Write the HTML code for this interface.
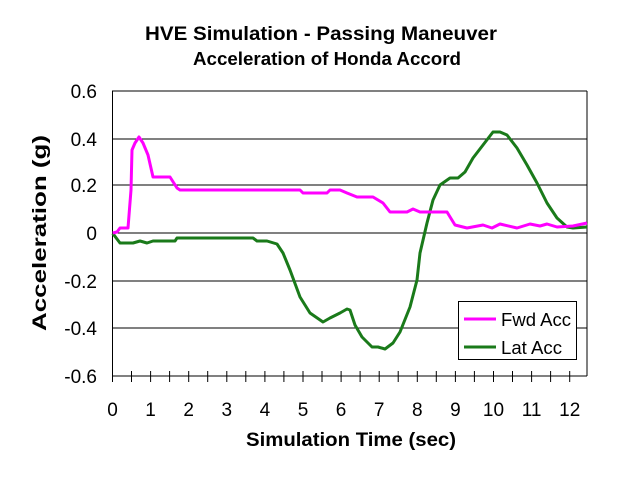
<!DOCTYPE html>
<html><head><style>body{margin:0;background:#fff}svg{display:block}</style></head><body>
<svg width="643" height="478" viewBox="0 0 643 478" xmlns="http://www.w3.org/2000/svg" font-family="Liberation Sans, Arial, sans-serif">
<rect width="643" height="478" fill="#fff"/>
<text x="321" y="40" text-anchor="middle" font-size="19" font-weight="bold" textLength="352" lengthAdjust="spacingAndGlyphs">HVE Simulation - Passing Maneuver</text>
<text x="327" y="65" text-anchor="middle" font-size="18" font-weight="bold" textLength="268" lengthAdjust="spacingAndGlyphs">Acceleration of Honda Accord</text>
<g stroke="#000" stroke-width="1">
<line x1="112" y1="91" x2="587" y2="91"/>
<line x1="112" y1="139" x2="587" y2="139"/>
<line x1="112" y1="185" x2="587" y2="185"/>
<line x1="112" y1="233" x2="587" y2="233"/>
<line x1="112" y1="281" x2="587" y2="281"/>
<line x1="112" y1="328" x2="587" y2="328"/>
<line x1="112" y1="376" x2="587" y2="376"/>
<line x1="112.5" y1="91" x2="112.5" y2="382"/>
<line x1="587" y1="91" x2="587" y2="376"/>
</g>
<g stroke="#000" stroke-width="1">
<line x1="131.5" y1="371" x2="131.5" y2="382"/><line x1="150.6" y1="371" x2="150.6" y2="382"/><line x1="169.6" y1="371" x2="169.6" y2="382"/><line x1="188.7" y1="371" x2="188.7" y2="382"/><line x1="207.7" y1="371" x2="207.7" y2="382"/><line x1="226.8" y1="371" x2="226.8" y2="382"/><line x1="245.8" y1="371" x2="245.8" y2="382"/><line x1="264.9" y1="371" x2="264.9" y2="382"/><line x1="283.9" y1="371" x2="283.9" y2="382"/><line x1="303" y1="371" x2="303" y2="382"/><line x1="322" y1="371" x2="322" y2="382"/><line x1="341.1" y1="371" x2="341.1" y2="382"/><line x1="360.1" y1="371" x2="360.1" y2="382"/><line x1="379.2" y1="371" x2="379.2" y2="382"/><line x1="398.2" y1="371" x2="398.2" y2="382"/><line x1="417.3" y1="371" x2="417.3" y2="382"/><line x1="436.3" y1="371" x2="436.3" y2="382"/><line x1="455.4" y1="371" x2="455.4" y2="382"/><line x1="474.4" y1="371" x2="474.4" y2="382"/><line x1="493.5" y1="371" x2="493.5" y2="382"/><line x1="512.5" y1="371" x2="512.5" y2="382"/><line x1="531.6" y1="371" x2="531.6" y2="382"/><line x1="550.6" y1="371" x2="550.6" y2="382"/><line x1="569.7" y1="371" x2="569.7" y2="382"/>
</g>
<g font-size="19" text-anchor="end">
<text x="97" y="98">0.6</text><text x="97" y="146">0.4</text><text x="97" y="192">0.2</text><text x="97" y="240">0</text><text x="97" y="288">-0.2</text><text x="97" y="335">-0.4</text><text x="97" y="383">-0.6</text>
</g>
<g font-size="19" text-anchor="middle">
<text x="112.5" y="416">0</text><text x="150.6" y="416">1</text><text x="188.7" y="416">2</text><text x="226.8" y="416">3</text><text x="264.9" y="416">4</text><text x="303" y="416">5</text><text x="341.1" y="416">6</text><text x="379.2" y="416">7</text><text x="417.3" y="416">8</text><text x="455.4" y="416">9</text><text x="493.5" y="416">10</text><text x="531.6" y="416">11</text><text x="569.7" y="416">12</text>
</g>
<text x="351" y="446" text-anchor="middle" font-size="19" font-weight="bold" textLength="210" lengthAdjust="spacingAndGlyphs">Simulation Time (sec)</text>
<text transform="translate(46,233) rotate(-90)" text-anchor="middle" font-size="19" font-weight="bold" textLength="196" lengthAdjust="spacingAndGlyphs">Acceleration (g)</text>
<polyline fill="none" stroke="#1a7a1a" stroke-width="3" stroke-linejoin="round" points="112.7,233.3 120,243 133,243 140,241 147,243 153,241 175,241 177,238 253,238 257,241 267,241 277,244 283,253 290,270 300,297 310,313 323,322 330,318 340,313 347,309 350,310 355,325 362,337 372,347 378,347 385,349 393,343 400,332 410,307 417,280 420,253 427,223 433,200 440,185 450,178 458,178 465,172 473,158 483,145 493,132 500,132 507,135 517,148 527,165 537,183 547,203 557,218 567,227 573,228 587,227"/>
<polyline fill="none" stroke="#ff00ff" stroke-width="3" stroke-linejoin="round" points="112.7,233 117,232 120,228 128,228 131,190 132,150 135,143 139,137 143,143 148,155 153,177 170,177 177,188 180,190 300,190 303,193 327,193 330,190 340,190 347,193 357,197 373,197 383,203 390,212 407,212 413,209 420,212 447,212 455,225 467,228 483,225 492,228 500,224 517,228 530,224 540,226 547,224 557,227 573,226 587,223"/>
<rect x="458.5" y="301.5" width="118" height="58" fill="#fff" stroke="#000"/>
<line x1="464" y1="319" x2="496" y2="319" stroke="#ff00ff" stroke-width="3"/>
<line x1="464" y1="347" x2="496" y2="347" stroke="#1a7a1a" stroke-width="3"/>
<text x="501" y="326" font-size="18" textLength="70" lengthAdjust="spacingAndGlyphs">Fwd Acc</text>
<text x="501" y="354" font-size="18" textLength="61" lengthAdjust="spacingAndGlyphs">Lat Acc</text>
</svg>
</body></html>
